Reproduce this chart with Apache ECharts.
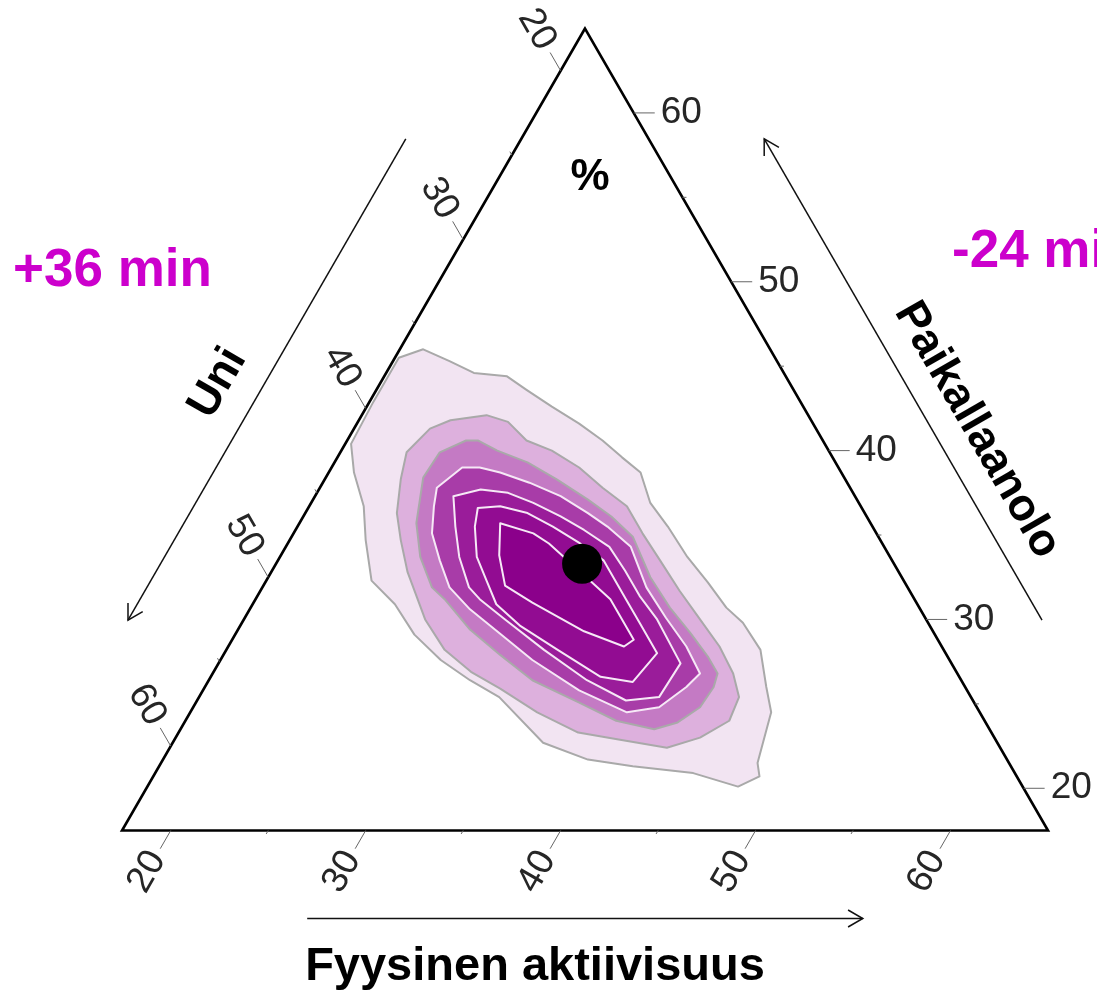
<!DOCTYPE html>
<html>
<head>
<meta charset="utf-8">
<script src="https://cdn.jsdelivr.net/npm/echarts@6/dist/echarts.min.js"></script>
<style>
html, body { margin: 0; padding: 0; background: #fff; }
#chart { width: 1097px; height: 991px; }
</style>
</head>
<body>
<div id="chart"></div>
<script>
// Each component of the ternary diagram is shown between 17.5 % and 65 %
const AXIS_MIN = 17.5;
const AXIS_MAX = 65;
const majorTicks = [20, 30, 40, 50, 60];
const minorTicks = [25, 35, 45, 55];

// Density contours of the compositions, outermost level first.
// Points are [Fyysinen aktiivisuus %, Paikallaanolo %]; Uni is the remainder to 100 %.
const contour1 = [[17.7,45.5],[18.7,46.0],[20.4,45.3],[22.0,44.6],[23.8,44.4],[25.2,43.6],[27.0,42.6],[28.9,41.6],[30.6,40.6],[32.1,39.6],[33.5,38.7],[34.9,36.9],[36.5,35.5],[38.4,33.7],[40.2,32.2],[41.9,30.7],[43.2,29.8],[44.9,28.2],[46.3,26.0],[47.3,24.5],[48.1,21.5],[48.6,20.7],[47.8,20.1],[45.1,20.9],[41.8,21.3],[39.3,21.7],[36.5,22.7],[32.9,25.4],[30.9,26.4],[28.8,27.6],[26.7,29.1],[24.8,30.9],[22.9,32.3],[21.4,34.7],[20.3,36.7],[18.8,38.7],[17.8,40.4],[17.7,42.9]];
const contour2 = [[20.9,39.9],[21.4,41.3],[22.2,41.8],[23.9,42.1],[25.2,41.7],[26.7,40.6],[28.3,40.0],[30.2,39.0],[32.0,37.8],[33.8,36.7],[35.4,35.1],[37.1,33.5],[39.0,31.7],[40.9,30.0],[42.7,28.4],[44.2,26.8],[45.2,25.4],[45.4,24.0],[44.4,23.0],[43.0,22.4],[40.2,22.9],[38.0,23.3],[35.3,24.5],[32.7,25.9],[30.7,26.9],[28.7,28.2],[26.8,30.0],[24.5,32.8],[23.2,34.7],[22.2,36.3],[21.4,38.3]];
const contour3 = [[22.5,38.4],[22.6,39.9],[23.6,40.6],[24.2,40.6],[25.5,40.0],[27.4,39.3],[29.4,38.3],[31.6,37.1],[33.3,36.1],[35.0,34.9],[37.1,32.5],[39.0,30.7],[40.8,29.2],[42.4,27.8],[43.4,26.8],[43.6,26.0],[43.5,24.8],[42.8,23.9],[41.8,23.5],[39.6,24.0],[37.1,25.1],[34.1,26.4],[31.7,27.9],[29.4,29.4],[27.2,31.2],[26.2,31.9],[24.7,33.7],[23.5,35.7]];
const contour4 = [[23.9,36.7],[23.5,37.8],[24.2,39.0],[25.1,39.0],[26.3,38.7],[28.1,38.1],[30.1,37.3],[32.0,36.3],[33.4,35.5],[35.2,34.3],[37.2,31.9],[39.1,30.1],[41.0,28.4],[42.5,26.8],[42.2,26.0],[41.4,24.8],[39.9,24.5],[36.8,25.8],[33.5,27.6],[31.0,29.2],[28.8,30.6],[27.1,31.9],[25.8,33.5],[24.6,35.1]];
const contour5 = [[25.6,35.5],[24.6,37.3],[25.8,37.7],[27.3,37.5],[28.9,36.9],[30.7,36.1],[32.3,35.3],[34.1,34.3],[35.6,32.9],[37.1,31.4],[38.7,30.0],[41.2,27.4],[41.1,25.4],[39.5,25.2],[36.9,26.4],[33.8,28.2],[30.9,30.0],[29.0,31.2],[28.1,31.9],[26.7,33.7]];
const contour6 = [[26.6,35.5],[26.2,36.6],[27.3,36.7],[28.9,36.3],[30.6,35.5],[32.5,34.5],[34.2,33.5],[36.5,31.2],[37.9,29.8],[39.7,28.0],[39.3,26.3],[37.5,26.6],[34.5,28.2],[31.9,29.6],[30.0,30.9],[28.8,32.3],[27.6,33.7]];
const contour7 = [[27.8,35.7],[29.8,35.1],[30.9,34.5],[34.1,32.3],[35.7,31.2],[38.1,28.8],[37.8,28.4],[35.3,29.3],[31.8,31.0],[29.9,32.0],[28.7,33.8]];

// Mean composition [Fyysinen aktiivisuus %, Paikallaanolo %]
const meanPoint = [33.2, 33.3];

// Axis titles and annotations
const titleUni = 'Uni';
const titlePaik = 'Paikallaanolo';
const titlePA = 'Fyysinen aktiivisuus';
const unitLabel = '%';
const changeUni = '+36 min';
const changePaik = '-24 min';

const contours = [contour1, contour2, contour3, contour4, contour5, contour6, contour7];
const levelFill = ['#f2e4f2', '#ddb0dd', '#c47ac4', '#a83ca8', '#9a1c9a', '#920c92', '#8b008b'];
const levelStroke = ['#a9a9a9', '#a9a9a9', '#a9a9a9', '#f6e8f6', '#f6e8f6', '#f6e8f6', '#f6e8f6'];

const SPAN = AXIS_MAX - AXIS_MIN;
const H = Math.sqrt(3) / 2;

// Composition -> plane: Uni corner bottom-left, Paikallaanolo top, Fyysinen aktiivisuus bottom-right
function project(pa, paik) {
  const wP = (paik - AXIS_MIN) / SPAN;
  const wA = (pa - AXIS_MIN) / SPAN;
  return [wA + wP / 2, wP * H];
}

// Point on an edge where the given axis has value v
function edgePoint(axis, v) {
  if (axis === 0) return project(v, AXIS_MIN);                 // bottom: Fyysinen aktiivisuus
  if (axis === 1) return project(100 - v - AXIS_MIN, v);       // right: Paikallaanolo
  return project(AXIS_MIN, 100 - v - AXIS_MIN);                // left: Uni
}

const tickItems = [];
[0, 1, 2].forEach(function (ax) {
  majorTicks.forEach(function (v) { const p = edgePoint(ax, v); tickItems.push([p[0], p[1], ax, v, 1]); });
  minorTicks.forEach(function (v) { const p = edgePoint(ax, v); tickItems.push([p[0], p[1], ax, v, 0]); });
});

const TICK_DIR = [[-0.5, H], [1, 0], [-0.5, -H]];
const LABEL_ROT = [Math.PI / 3, 0, -Math.PI / 3];
const LABEL_ALIGN = ['right', 'left', 'right'];

const corners = {
  top: project(AXIS_MIN, AXIS_MAX),
  left: project(AXIS_MIN, AXIS_MIN),
  right: project(AXIS_MAX, AXIS_MIN)
};

function centroid(pts) {
  let sx = 0, sy = 0;
  pts.forEach(function (p) { const q = project(p[0], p[1]); sx += q[0]; sy += q[1]; });
  return [sx / pts.length, sy / pts.length];
}

function arrowShapes(a, b, normal, offset) {
  const t0 = 0.2, t1 = 0.8;
  const sx = a[0] + (b[0] - a[0]) * t0 + normal[0] * offset;
  const sy = a[1] + (b[1] - a[1]) * t0 + normal[1] * offset;
  const ex = a[0] + (b[0] - a[0]) * t1 + normal[0] * offset;
  const ey = a[1] + (b[1] - a[1]) * t1 + normal[1] * offset;
  const len = Math.hypot(ex - sx, ey - sy);
  const ux = (ex - sx) / len, uy = (ey - sy) / len;
  const hl = 17, ang = Math.PI / 6;
  const c = Math.cos(ang), s = Math.sin(ang);
  const h1 = [ex - hl * (ux * c - uy * s), ey - hl * (uy * c + ux * s)];
  const h2 = [ex - hl * (ux * c + uy * s), ey - hl * (uy * c - ux * s)];
  const st = { stroke: '#111', lineWidth: 1.5, fill: null };
  return [
    { type: 'line', shape: { x1: sx, y1: sy, x2: ex, y2: ey }, style: st },
    { type: 'polyline', shape: { points: [h1, [ex, ey], h2] }, style: st }
  ];
}

const chart = echarts.init(document.getElementById('chart'), null, { renderer: 'canvas' });

chart.setOption({
  backgroundColor: '#ffffff',
  animation: false,
  grid: { left: 122, top: 28.5, width: 926, height: 802, containLabel: false },
  xAxis: { type: 'value', min: 0, max: 1, show: false },
  yAxis: { type: 'value', min: 0, max: H, show: false },
  series: [
    {
      // filled density levels
      type: 'custom',
      clip: false,
      silent: true,
      z: 2,
      data: contours.map(function (c, i) { const m = centroid(c); return [m[0], m[1], i]; }),
      renderItem: function (params, api) {
        const i = params.dataIndex;
        const pts = contours[i].map(function (p) { return api.coord(project(p[0], p[1])); });
        return {
          type: 'polygon',
          shape: { points: pts },
          style: { fill: levelFill[i], stroke: levelStroke[i], lineWidth: 2, lineJoin: 'round' }
        };
      }
    },
    {
      // triangle frame and direction arrows
      type: 'custom',
      clip: false,
      silent: true,
      z: 4,
      data: [[0.5, H / 3]],
      renderItem: function (params, api) {
        const T = api.coord(corners.top), L = api.coord(corners.left), R = api.coord(corners.right);
        const children = [{
          type: 'polygon',
          shape: { points: [T, L, R] },
          style: { fill: null, stroke: '#000', lineWidth: 2.6, lineJoin: 'miter' }
        }];
        Array.prototype.push.apply(children, arrowShapes(T, L, [-H, -0.5], 100));
        Array.prototype.push.apply(children, arrowShapes(R, T, [H, -0.5], 100));
        Array.prototype.push.apply(children, arrowShapes(L, R, [0, 1], 88));
        return { type: 'group', children: children };
      }
    },
    {
      // ticks and tick labels of the three axes
      type: 'custom',
      clip: false,
      silent: true,
      z: 5,
      data: tickItems,
      renderItem: function (params, api) {
        const p = api.coord([api.value(0), api.value(1)]);
        const ax = api.value(2), major = api.value(4) === 1;
        const d = TICK_DIR[ax];
        const len = major ? 21 : 4;
        const e = [p[0] + d[0] * len, p[1] + d[1] * len];
        const children = [{
          type: 'line',
          shape: { x1: p[0], y1: p[1], x2: e[0], y2: e[1] },
          style: { stroke: '#666', lineWidth: 1 }
        }];
        if (major) {
          children.push({
            type: 'text',
            x: e[0] + d[0] * 6,
            y: e[1] + d[1] * 6,
            rotation: LABEL_ROT[ax],
            style: {
              text: String(api.value(3)),
              font: '37px "Liberation Sans", Arial, sans-serif',
              fill: '#262626',
              align: LABEL_ALIGN[ax],
              verticalAlign: 'middle'
            }
          });
        }
        return { type: 'group', children: children };
      }
    },
    {
      type: 'scatter',
      silent: true,
      z: 6,
      symbol: 'circle',
      symbolSize: 40,
      itemStyle: { color: '#000', opacity: 1 },
      data: [project(meanPoint[0], meanPoint[1])]
    }
  ],
  graphic: [
    { type: 'text', x: 218, y: 383, rotation: Math.PI / 3, z: 10,
      style: { text: titleUni, font: 'bold 45px "Liberation Sans", Arial, sans-serif', fill: '#000', align: 'center', verticalAlign: 'middle' } },
    { type: 'text', x: 977, y: 430, rotation: -Math.PI / 3, z: 10,
      style: { text: titlePaik, font: 'bold 45px "Liberation Sans", Arial, sans-serif', fill: '#000', align: 'center', verticalAlign: 'middle' } },
    { type: 'text', x: 535, y: 967, z: 10,
      style: { text: titlePA, font: 'bold 47px "Liberation Sans", Arial, sans-serif', fill: '#000', align: 'center', verticalAlign: 'middle' } },
    { type: 'text', x: 590, y: 178, z: 10,
      style: { text: unitLabel, font: 'bold 44px "Liberation Sans", Arial, sans-serif', fill: '#000', align: 'center', verticalAlign: 'middle' } },
    { type: 'text', x: 13, y: 271, z: 10,
      style: { text: changeUni, font: 'bold 53px "Liberation Sans", Arial, sans-serif', fill: '#cc00cc', align: 'left', verticalAlign: 'middle' } },
    { type: 'text', x: 952, y: 252, z: 10,
      style: { text: changePaik, font: 'bold 53px "Liberation Sans", Arial, sans-serif', fill: '#cc00cc', align: 'left', verticalAlign: 'middle' } }
  ]
});
</script>
</body>
</html>
